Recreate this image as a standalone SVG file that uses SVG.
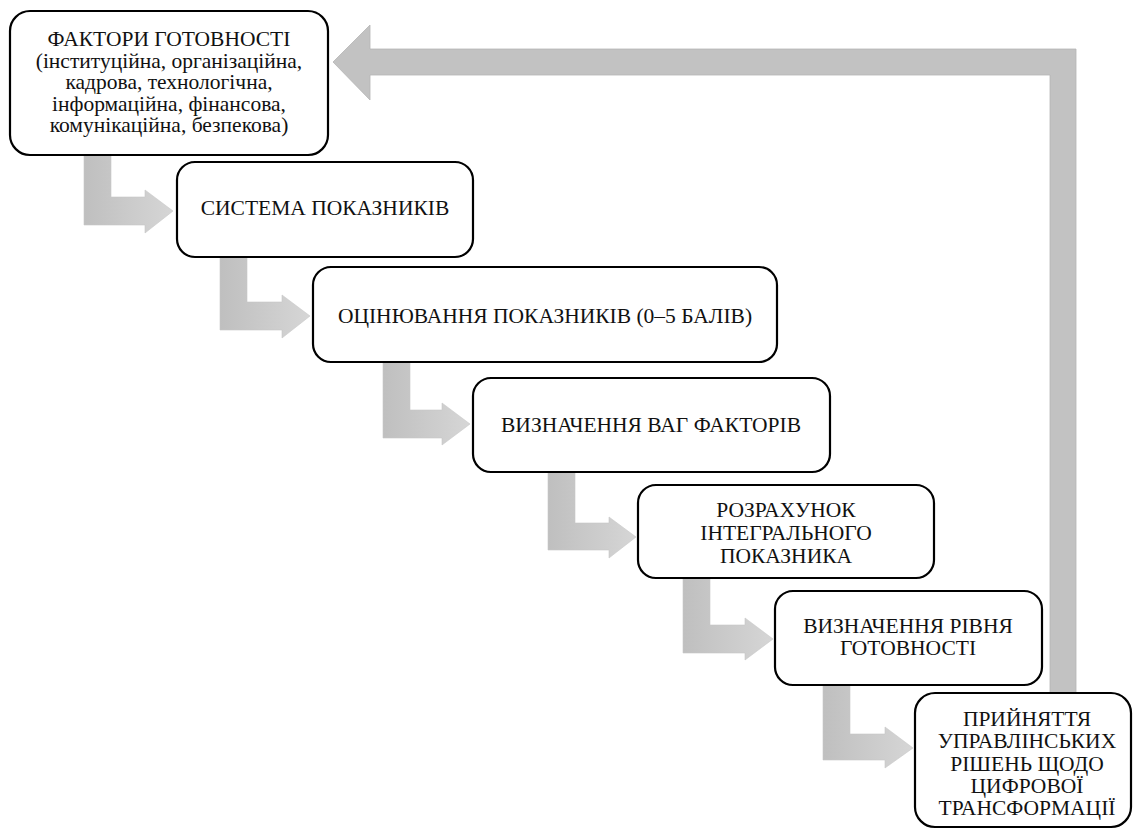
<svg xmlns="http://www.w3.org/2000/svg" width="1133" height="830" viewBox="0 0 1133 830">
<defs>
<linearGradient id="ag" x1="0" y1="0" x2="1" y2="0">
<stop offset="0" stop-color="#bfbfbf"/>
<stop offset="1" stop-color="#d6d6d6"/>
</linearGradient>
<style>
.box{fill:#fff;stroke:#000;stroke-width:2.2}
.arr{fill:url(#ag);stroke:#c8c8c8;stroke-width:0.6}
.fb{fill:#c2c2c2;stroke:#b5b5b5;stroke-width:0.8}
.t{font-family:'Liberation Serif','Times New Roman',serif;font-size:21.5px;fill:#111;text-anchor:middle}
</style>
</defs>
<rect width="1133" height="830" fill="#fff"/>
<g id="connectors">
<path class="fb" d="M1050,693 L1076,693 L1076,49 L370,49 L370,25 L333,62 L370,100 L370,75 L1050,75 Z"/>
<path class="arr" d="M84,155 L111,155 L111,197 L145,197 L145,190 L173,211 L145,233 L145,225 L84,225 Z"/>
<path class="arr" d="M220,257 L247,257 L247,302 L282,302 L282,295 L310,316 L282,338 L282,330 L220,330 Z"/>
<path class="arr" d="M383,362 L410,362 L410,410 L442,410 L442,403 L470,424 L442,445 L442,438 L383,438 Z"/>
<path class="arr" d="M548,472 L575,472 L575,523 L609,523 L609,517 L636,537 L609,558 L609,550 L548,550 Z"/>
<path class="arr" d="M683,578 L710,578 L710,625 L745,625 L745,618 L773,639 L745,660 L745,653 L683,653 Z"/>
<path class="arr" d="M823,685 L850,685 L850,734 L885,734 L885,727 L913,748 L885,768 L885,760 L823,760 Z"/>
</g>
<g id="nodes" font-family="Liberation Serif, serif">
<g id="n1">
<rect class="box" x="10" y="11" width="318" height="144" rx="20"/>
<text class="t" x="169" y="46">ФАКТОРИ ГОТОВНОСТІ</text>
<text class="t" x="169" y="67.5">(інституційна, організаційна,</text>
<text class="t" x="169" y="89">кадрова, технологічна,</text>
<text class="t" x="169" y="110.5">інформаційна, фінансова,</text>
<text class="t" x="169" y="132">комунікаційна, безпекова)</text>
</g>
<g id="n2">
<rect class="box" x="177" y="162" width="296" height="95" rx="18"/>
<text class="t" x="325" y="215">СИСТЕМА ПОКАЗНИКІВ</text>
</g>
<g id="n3">
<rect class="box" x="313" y="267" width="464" height="95" rx="18"/>
<text class="t" x="545" y="323">ОЦІНЮВАННЯ ПОКАЗНИКІВ (0–5 БАЛІВ)</text>
</g>
<g id="n4">
<rect class="box" x="473" y="378" width="357" height="94" rx="18"/>
<text class="t" x="651" y="432">ВИЗНАЧЕННЯ ВАГ ФАКТОРІВ</text>
</g>
<g id="n5">
<rect class="box" x="638" y="485" width="296" height="93" rx="18"/>
<text class="t" x="786" y="517">РОЗРАХУНОК</text>
<text class="t" x="786" y="540">ІНТЕГРАЛЬНОГО</text>
<text class="t" x="786" y="563">ПОКАЗНИКА</text>
</g>
<g id="n6">
<rect class="box" x="775" y="591" width="267" height="94" rx="18"/>
<text class="t" x="908" y="633">ВИЗНАЧЕННЯ РІВНЯ</text>
<text class="t" x="908" y="655">ГОТОВНОСТІ</text>
</g>
<g id="n7">
<rect class="box" x="915" y="693" width="216" height="134" rx="20"/>
<text class="t" x="1027" y="726">ПРИЙНЯТТЯ</text>
<text class="t" x="1027" y="748">УПРАВЛІНСЬКИХ</text>
<text class="t" x="1027" y="771">РІШЕНЬ ЩОДО</text>
<text class="t" x="1027" y="793">ЦИФРОВОЇ</text>
<text class="t" x="1027" y="815">ТРАНСФОРМАЦІЇ</text>
</g>
</g>
</svg>
